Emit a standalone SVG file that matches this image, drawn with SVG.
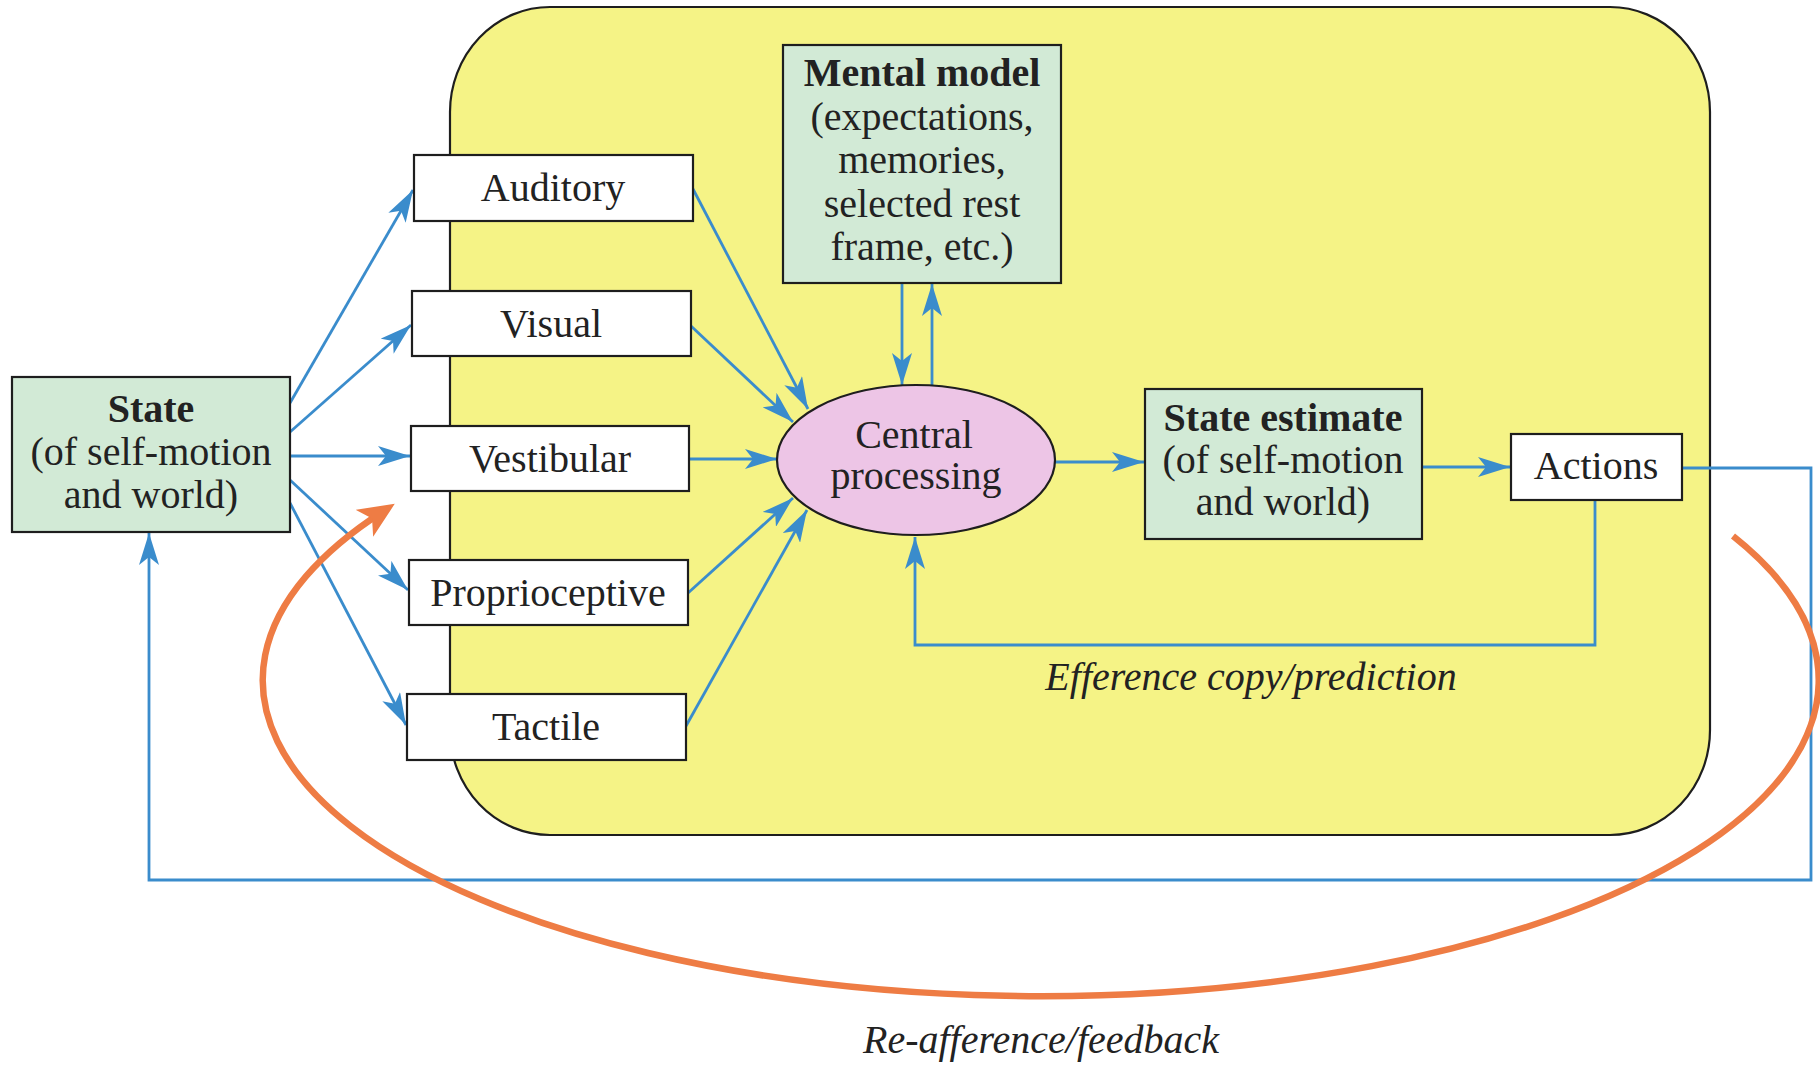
<svg xmlns="http://www.w3.org/2000/svg" width="1820" height="1065" viewBox="0 0 1820 1065">
  <style>
    .lbl { font-family: "Liberation Serif", "Times New Roman", serif; font-size: 40px; fill: #222222; text-anchor: middle; }
    .bold { font-weight: bold; }
    .ital { font-style: italic; }
    .box { stroke: #1e1e1e; stroke-width: 2.2; }
    .white { fill: #ffffff; }
    .green { fill: #d2ead6; }
    .link { fill: none; stroke: #3a8ccc; stroke-width: 2.8; marker-end: url(#arrBlue); }
    .loop { fill: none; stroke: #ee7c44; stroke-width: 6.5; marker-end: url(#arrOrange); }
  </style>
  <defs>
    <marker id="arrBlue" viewBox="0 0 32 20" refX="32" refY="10" markerWidth="32" markerHeight="20" markerUnits="userSpaceOnUse" orient="auto">
      <path d="M0,0 L32,10 L0,20 L8,10 z" fill="#3a8ccc"/>
    </marker>
    <marker id="arrOrange" viewBox="0 0 36 32" refX="22" refY="16" markerWidth="36" markerHeight="32" markerUnits="userSpaceOnUse" orient="auto">
      <path d="M0,0 L36,16 L0,32 L9,16 z" fill="#ee7c44"/>
    </marker>
  </defs>

  <rect width="1820" height="1065" fill="#ffffff"/>

  <!-- inner (brain) region -->
  <g id="brain-region">
    <rect x="450" y="7" width="1260" height="828" rx="100" ry="105" fill="#f5f386" stroke="#1e1e1e" stroke-width="2.2"/>
  </g>

  <!-- connectors -->
  <g id="connectors">
    <!-- state to sense organs -->
    <path class="link" d="M290,403 L413,190"/>
    <path class="link" d="M290,432 L411,325"/>
    <path class="link" d="M290,456 L410,456"/>
    <path class="link" d="M290,480 L408,590"/>
    <path class="link" d="M290,503 L406,725"/>
    <!-- sense organs to central processing -->
    <path class="link" d="M693,189 L808,409"/>
    <path class="link" d="M691,326 L793,422"/>
    <path class="link" d="M689,459 L777,459"/>
    <path class="link" d="M688,593 L793,498"/>
    <path class="link" d="M686,726 L807,510"/>
    <!-- mental model exchange -->
    <path class="link" d="M902,283 L902,385"/>
    <path class="link" d="M932,386 L932,284"/>
    <!-- processing chain -->
    <path class="link" d="M1055,462 L1144,462"/>
    <path class="link" d="M1422,467 L1510,467"/>
    <!-- efference copy back to central processing -->
    <path class="link" d="M1595,500 L1595,645 L915,645 L915,537"/>
    <!-- external feedback to the world state -->
    <path class="link" d="M1682,468 L1811,468 L1811,880 L149,880 L149,533"/>
    <!-- re-afference loop -->
    <path class="loop" d="M1733,536 A778,316 0 1 1 383,511.4"/>
  </g>

  <g id="state">
    <rect class="box green" x="12" y="377" width="278" height="155"/>
    <text class="lbl bold" x="151" y="422">State</text>
    <text class="lbl" x="151" y="465">(of self-motion</text>
    <text class="lbl" x="151" y="508">and world)</text>
  </g>

  <g id="auditory">
    <rect class="box white" x="414" y="155" width="279" height="66"/>
    <text class="lbl" x="553" y="201">Auditory</text>
  </g>
  <g id="visual">
    <rect class="box white" x="412" y="291" width="279" height="65"/>
    <text class="lbl" x="551" y="337">Visual</text>
  </g>
  <g id="vestibular">
    <rect class="box white" x="411" y="426" width="278" height="65"/>
    <text class="lbl" x="550" y="472">Vestibular</text>
  </g>
  <g id="proprioceptive">
    <rect class="box white" x="409" y="560" width="279" height="65"/>
    <text class="lbl" x="548" y="606">Proprioceptive</text>
  </g>
  <g id="tactile">
    <rect class="box white" x="407" y="694" width="279" height="66"/>
    <text class="lbl" x="546" y="740">Tactile</text>
  </g>

  <g id="mental-model">
    <rect class="box green" x="783" y="45" width="278" height="238"/>
    <text class="lbl bold" x="922" y="86">Mental model</text>
    <text class="lbl" x="922" y="130">(expectations,</text>
    <text class="lbl" x="922" y="173">memories,</text>
    <text class="lbl" x="922" y="217">selected rest</text>
    <text class="lbl" x="922" y="260">frame, etc.)</text>
  </g>

  <g id="central-processing">
    <ellipse cx="916" cy="460" rx="139" ry="75" fill="#edc5e6" stroke="#1e1e1e" stroke-width="2.2"/>
    <text class="lbl" x="914" y="448">Central</text>
    <text class="lbl" x="916" y="489">processing</text>
  </g>

  <g id="state-estimate">
    <rect class="box green" x="1145" y="389" width="277" height="150"/>
    <text class="lbl bold" x="1283" y="431">State estimate</text>
    <text class="lbl" x="1283" y="473">(of self-motion</text>
    <text class="lbl" x="1283" y="515">and world)</text>
  </g>

  <g id="actions">
    <rect class="box white" x="1511" y="434" width="171" height="66"/>
    <text class="lbl" x="1596" y="479">Actions</text>
  </g>

  <g id="labels">
    <text class="lbl ital" x="1251" y="690">Efference copy/prediction</text>
    <text class="lbl ital" x="1041" y="1053">Re-afference/feedback</text>
  </g>
</svg>
